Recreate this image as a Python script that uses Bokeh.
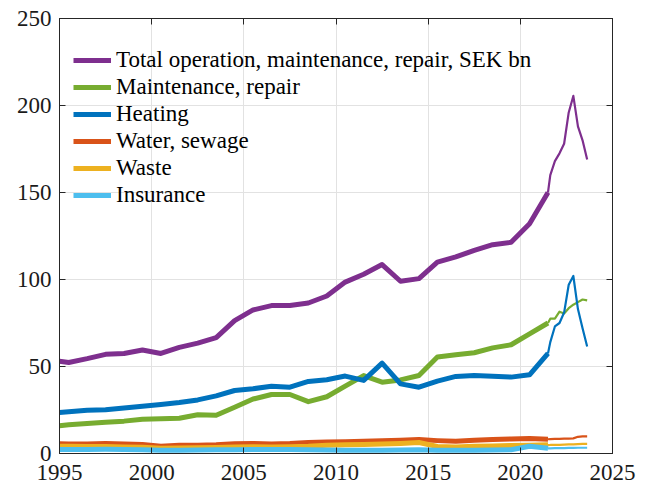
from bokeh.plotting import figure
from bokeh.models import FixedTicker, LinearAxis, Legend, LegendItem, Range1d, CustomJSTickFormatter
from bokeh.embed import file_html
from bokeh.resources import INLINE

# ---- data (SEK bn) ----
# annual series, plotted at mid-year (first point at the axis start)
years = [1995.0, 1995.5, 1996.5, 1997.5, 1998.5, 1999.5, 2000.5, 2001.5, 2002.5, 2003.5,
         2004.5, 2005.5, 2006.5, 2007.5, 2008.5, 2009.5, 2010.5, 2011.5, 2012.5, 2013.5,
         2014.5, 2015.5, 2016.5, 2017.5, 2018.5, 2019.5, 2020.5, 2021.5]
total = [53.0, 52.3, 54.5, 57.0, 57.5, 59.5, 57.5, 61.0, 63.4, 66.6,
         76.4, 82.5, 85.0, 85.0, 86.5, 90.5, 98.5, 103.0, 108.6, 99.0,
         100.5, 110.0, 113.0, 116.7, 120.0, 121.4, 132.0, 150.0]
maintenance = [16.0, 16.5, 17.2, 18.0, 18.6, 19.7, 19.9, 20.3, 22.3, 22.0,
               26.6, 31.3, 33.9, 33.9, 29.8, 32.6, 38.7, 44.8, 41.0, 42.3,
               44.8, 55.4, 56.7, 57.9, 60.7, 62.5, 68.8, 75.0]
heating = [23.6, 24.0, 24.9, 25.1, 26.2, 27.2, 28.2, 29.3, 30.8, 33.1,
           36.2, 37.2, 38.7, 38.1, 41.4, 42.4, 44.5, 42.0, 51.9, 40.0,
           38.1, 41.6, 44.3, 44.8, 44.4, 43.9, 45.2, 57.5]
water = [5.6, 5.4, 5.4, 5.8, 5.4, 5.2, 4.2, 4.7, 4.7, 5.0,
         5.6, 5.8, 5.5, 5.7, 6.3, 6.6, 6.7, 7.0, 7.3, 7.6,
         8.0, 7.4, 7.0, 7.6, 8.0, 8.4, 8.6, 8.2]
waste = [4.2, 4.1, 4.0, 4.0, 3.8, 3.6, 3.0, 3.2, 3.3, 3.5,
         3.7, 3.9, 3.8, 3.9, 4.2, 4.8, 5.0, 5.2, 5.5, 5.8,
         6.3, 4.0, 3.8, 4.1, 4.3, 4.6, 4.8, 5.0]
insurance = [2.3, 2.3, 2.3, 2.4, 2.3, 2.2, 1.8, 1.9, 2.0, 2.1,
             2.2, 2.3, 2.3, 2.3, 2.2, 2.0, 1.8, 1.8, 1.8, 2.0,
             2.1, 1.9, 1.9, 1.9, 2.0, 2.2, 4.2, 3.0]

# quarterly series (recent period)
quarters = [2021.5, 2021.625, 2021.875, 2022.125, 2022.375, 2022.625, 2022.875,
            2023.125, 2023.375, 2023.625]
total_q = [150.0, 160.0, 168.0, 172.5, 178.0, 196.0, 205.5, 188.0, 180.0, 169.0]
maintenance_q = [75.0, 77.5, 77.5, 81.5, 80.5, 83.5, 85.5, 87.0, 88.5, 88.0]
heating_q = [57.5, 64.0, 73.0, 75.0, 81.0, 97.0, 102.0, 83.0, 72.0, 61.5]
water_q = [8.2, 8.3, 8.4, 8.4, 8.5, 8.6, 8.7, 9.6, 9.8, 9.8]
waste_q = [4.8, 4.9, 5.0, 5.0, 5.1, 5.2, 5.3, 5.4, 5.5, 5.5]
insurance_q = [3.0, 3.0, 3.1, 3.1, 3.1, 3.2, 3.2, 3.3, 3.3, 3.3]

labels = ["Total operation, maintenance, repair, SEK bn", "Maintenance, repair",
          "Heating", "Water, sewage", "Waste", "Insurance"]
colors = ["#7E2F8E", "#77AC30", "#0072BD", "#D95319", "#EDB120", "#4DBEEE"]

x_ticks = [1995, 2000, 2005, 2010, 2015, 2020, 2025]
y_ticks = [0, 50, 100, 150, 200, 250]

FONT = "Liberation Serif"
AX = "#262626"

p = figure(width=651, height=490, output_backend="svg", toolbar_location=None,
           x_range=Range1d(1995, 2025), y_range=Range1d(0, 250),
           min_border_left=59, min_border_right=39, min_border_top=18, min_border_bottom=37)
p.background_fill_color = "white"
p.border_fill_color = "white"
p.outline_line_color = AX
p.outline_line_width = 1

for ax in (p.xaxis[0], p.yaxis[0]):
    ax.axis_line_color = AX
    ax.major_tick_line_color = AX
    ax.major_tick_in = 6
    ax.major_tick_out = 0
    ax.minor_tick_line_color = None
    ax.major_label_text_font = FONT
    ax.major_label_text_font_size = "23px"
    ax.major_label_text_color = "#1a1a1a"
p.xaxis[0].ticker = FixedTicker(ticks=x_ticks)
p.yaxis[0].ticker = FixedTicker(ticks=y_ticks)
p.xaxis[0].major_label_standoff = 11
p.yaxis[0].major_label_standoff = 8

blank = CustomJSTickFormatter(code="return ''")
top_ax = LinearAxis(ticker=FixedTicker(ticks=x_ticks), formatter=blank)
right_ax = LinearAxis(ticker=FixedTicker(ticks=y_ticks), formatter=blank)
for ax in (top_ax, right_ax):
    ax.axis_line_color = AX
    ax.major_tick_line_color = AX
    ax.major_tick_in = 6
    ax.major_tick_out = 0
    ax.minor_tick_line_color = None
    ax.major_label_text_font_size = "1px"
    ax.major_label_standoff = 0
p.add_layout(top_ax, "above")
p.add_layout(right_ax, "right")

p.xgrid.ticker = FixedTicker(ticks=x_ticks)
p.ygrid.ticker = FixedTicker(ticks=y_ticks)
for g in (p.xgrid[0], p.ygrid[0]):
    g.grid_line_color = "#e2e2e2"
    g.grid_line_width = 1

annual = [total, maintenance, heating, water, waste, insurance]
quarterly = [total_q, maintenance_q, heating_q, water_q, waste_q, insurance_q]

items = []
for lab, col, a, q in zip(labels, colors, annual, quarterly):
    r = p.line(years, a, line_color=col, line_width=5, line_join="round", line_cap="butt")
    p.line(quarters, q, line_color=col, line_width=2.2, line_join="round")
    items.append(LegendItem(label=lab, renderers=[r]))

legend = Legend(items=items, location=(14, 245))
legend.border_line_color = None
legend.background_fill_alpha = 0
legend.padding = 0
legend.margin = 0
legend.glyph_width = 38
legend.glyph_height = 24
legend.label_height = 24
legend.spacing = 1
legend.label_standoff = 5
legend.label_text_font = FONT
legend.label_text_font_size = "23px"
legend.label_text_color = "black"
p.add_layout(legend)

open("out.html", "w").write(file_html(p, INLINE))
